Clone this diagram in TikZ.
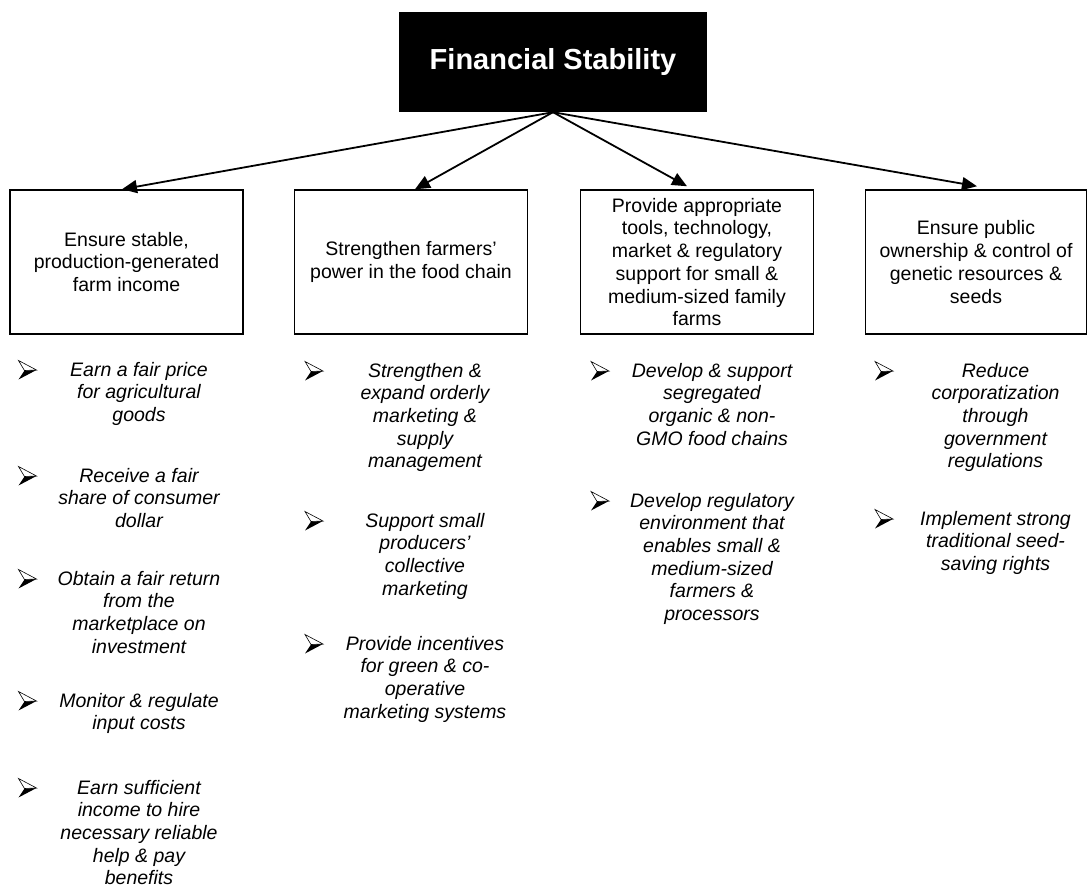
\documentclass[tikz,border=0pt]{standalone}
\usepackage{fontspec}
\setmainfont{Liberation Sans}
\usetikzlibrary{arrows.meta}
\def\dingarrow(#1,#2){%
	\fill[black] (#1-3,#2+0.5) -- (#1+9,#2) -- (#1-9,#2+9.5) -- cycle;
	\filldraw[fill=white,draw=black,line width=0.6pt] (#1-9,#2-9.5) -- (#1+9,#2) -- (#1-3,#2+0.5) -- cycle;}

\begin{document}
\begin{tikzpicture}[x=1pt,y=-1pt,
		goalbox/.style={draw=black,line width=1.5pt,minimum width=233pt,minimum height=144pt,inner sep=0pt,align=center,font=\fontsize{19.5}{22.7}\selectfont},
		itemtext/.style={anchor=north,inner sep=0pt,align=center,font=\fontsize{19.5}{22.7}\selectfont\itshape},
		link/.style={line width=1.8pt,-{Triangle[length=15pt,width=13pt]}}]
		%%%%% START %%%%%
		
		\useasboundingbox (0,0) rectangle (1088,889);
		
		\node[fill=black,text=white,minimum width=308pt,minimum height=100pt,font=\fontsize{29}{34}\selectfont\bfseries] (fs) at (553,62) {Financial Stability};
		
		\node[goalbox] (b1) at (126.5,262) {Ensure stable,\\production-generated\\farm income};
		\node[goalbox] (b2) at (411,262) {Strengthen farmers’\\power in the food chain};
		\node[goalbox] (b3) at (697,262) {Provide appropriate\\tools, technology,\\market \& regulatory\\support for small \&\\medium-sized family\\farms};
		\node[goalbox,minimum width=221pt] (b4) at (976,262) {Ensure public\\ownership \& control of\\genetic resources \&\\seeds};
		
		\draw[link] (fs.south) -- ([xshift=-4.5pt]b1.north);
		\draw[link] (fs.south) -- ([xshift=4pt]b2.north);
		\draw[link] (fs.south) -- ([xshift=-10pt,yshift=3pt]b3.north);
		\draw[link] (fs.south) -- ([xshift=1pt,yshift=3pt]b4.north);
		
		% column 1
		\dingarrow(27.5,370);
		\node[itemtext] (i11) at (139,361.7) {Earn a fair price\\for agricultural\\goods};
		\dingarrow(27.5,476);
		\node[itemtext] (i12) at (139,467.7) {Receive a fair\\share of consumer\\dollar};
		\dingarrow(27.5,579);
		\node[itemtext] (i13) at (139,570.7) {Obtain a fair return\\from the\\marketplace on\\investment};
		\dingarrow(27.5,701);
		\node[itemtext] (i14) at (139,692.7) {Monitor \& regulate\\input costs};
		\dingarrow(27.5,788);
		\node[itemtext] (i15) at (139,779.7) {Earn sufficient\\income to hire\\necessary reliable\\help \& pay\\benefits};
		
		% column 2
		\dingarrow(314,371);
		\node[itemtext] (i21) at (425,362.7) {Strengthen \&\\expand orderly\\marketing \&\\supply\\management};
		\dingarrow(314,521);
		\node[itemtext] (i22) at (425,512.7) {Support small\\producers’\\collective\\marketing};
		\dingarrow(314,644);
		\node[itemtext] (i23) at (425,635.7) {Provide incentives\\for green \& co-\\operative\\marketing systems};
		
		% column 3
		\dingarrow(600,371);
		\node[itemtext] (i31) at (712,362.7) {Develop \& support\\segregated\\organic \& non-\\GMO food chains};
		\dingarrow(600,501);
		\node[itemtext] (i32) at (712,492.7) {Develop regulatory\\environment that\\enables small \&\\medium-sized\\farmers \&\\processors};
		
		% column 4
		\dingarrow(884,371);
		\node[itemtext] (i41) at (995.5,362.7) {Reduce\\corporatization\\through\\government\\regulations};
		\dingarrow(884,519);
		\node[itemtext] (i42) at (995.5,510.7) {Implement strong\\traditional seed-\\saving rights};
		
		%%%%% END %%%%%
\end{tikzpicture}
\end{document}
